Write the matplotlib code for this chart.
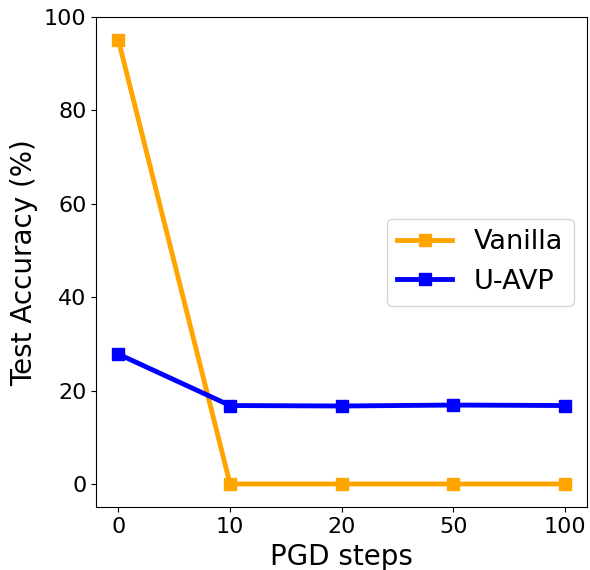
import matplotlib
matplotlib.use('Agg')
import matplotlib.pyplot as plt

# PGD steps vs. test accuracy
steps = ['0', '10', '20', '50', '100']
vanilla = [95.0, 0.0, 0.0, 0.0, 0.0]
uavp = [27.8, 16.8, 16.7, 16.9, 16.8]

fig, ax = plt.subplots(figsize=(5.9, 5.7), dpi=100)
x = range(len(steps))
ax.plot(x, vanilla, color='orange', marker='s', linewidth=3.5, markersize=8, label='Vanilla')
ax.plot(x, uavp, color='blue', marker='s', linewidth=3.5, markersize=8, label='U-AVP')

ax.set_xticks(list(x))
ax.set_xticklabels(steps)
ax.set_ylim(-5, 100)
ax.tick_params(labelsize=16)
ax.set_xlabel('PGD steps', fontsize=20)
ax.set_ylabel('Test Accuracy (%)', fontsize=20)
ax.legend(fontsize=19.5, loc='center right')

fig.subplots_adjust(left=0.163, right=0.995, top=0.97, bottom=0.11)
fig.savefig('out.png')
